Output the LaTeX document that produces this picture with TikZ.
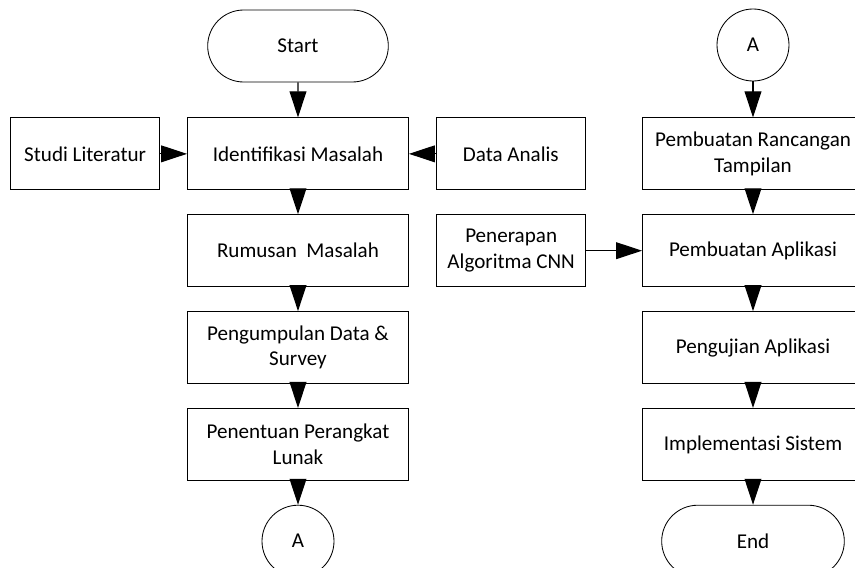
\documentclass[tikz,border=0pt]{standalone}
\usepackage{fontspec}
\setmainfont{Carlito}
\usepackage{tikz}
\usetikzlibrary{arrows.meta,positioning,shapes.misc}

\begin{document}
\begin{tikzpicture}[
  stepbox/.style={draw, rectangle, minimum width=5.525cm, minimum height=1.8cm, align=center, line width=0.6pt, font=\fontsize{15}{18}\selectfont},
  sidebox/.style={stepbox, minimum width=3.725cm},
  terminal/.style={draw, rounded rectangle, minimum width=4.75cm, minimum height=1.8cm, line width=0.6pt, font=\fontsize{15}{18}\selectfont},
  connector/.style={draw, circle, minimum size=1.8cm, inner sep=0pt, line width=0.6pt, font=\fontsize{15}{18}\selectfont},
  flow/.style={-{Triangle[length=0.65cm, width=0.42cm]}, line width=0.8pt, draw=black},
]
\useasboundingbox (0,0) rectangle (21.375,-14.2);

% Left column (research preparation)
\node[terminal] (start) at (7.45,-1.15) {Start};
\node[stepbox, below=0.875cm of start] (ident) {Identifikasi Masalah};
\node[sidebox, left=0.675cm of ident] (studi) {Studi Literatur};
\node[sidebox, right=0.675cm of ident] (data) {Data Analis};
\node[stepbox, below=0.6cm of ident] (rumusan) {Rumusan~ Masalah};
\node[stepbox, below=0.6cm of rumusan] (kumpul) {Pengumpulan Data \&\\Survey};
\node[stepbox, below=0.6cm of kumpul] (tentu) {Penentuan Perangkat\\Lunak};
\node[connector, below=0.6cm of tentu] (conA) {A};

% Right column (application build)
\node[connector] (conB) at (18.825,-1.125) {A};
\node[stepbox, below=0.9cm of conB] (rancang) {Pembuatan Rancangan\\Tampilan};
\node[stepbox, below=0.6cm of rancang] (aplikasi) {Pembuatan Aplikasi};
\node[sidebox, left=1.4cm of aplikasi] (cnn) {Penerapan\\Algoritma CNN};
\node[stepbox, below=0.6cm of aplikasi] (uji) {Pengujian Aplikasi};
\node[stepbox, below=0.6cm of uji] (impl) {Implementasi Sistem};
\node[terminal, minimum width=4.8cm, below=0.6cm of impl] (end) {End};

\draw[flow] (start) -- (ident);
\draw[flow] (studi) -- (ident);
\draw[flow] (data) -- (ident);
\draw[flow] (ident) -- (rumusan);
\draw[flow] (rumusan) -- (kumpul);
\draw[flow] (kumpul) -- (tentu);
\draw[flow] (tentu) -- (conA);

\draw[flow] (conB) -- (rancang);
\draw[flow] (rancang) -- (aplikasi);
\draw[flow] (cnn) -- (aplikasi);
\draw[flow] (aplikasi) -- (uji);
\draw[flow] (uji) -- (impl);
\draw[flow] (impl) -- (end);

\end{tikzpicture}
\end{document}
